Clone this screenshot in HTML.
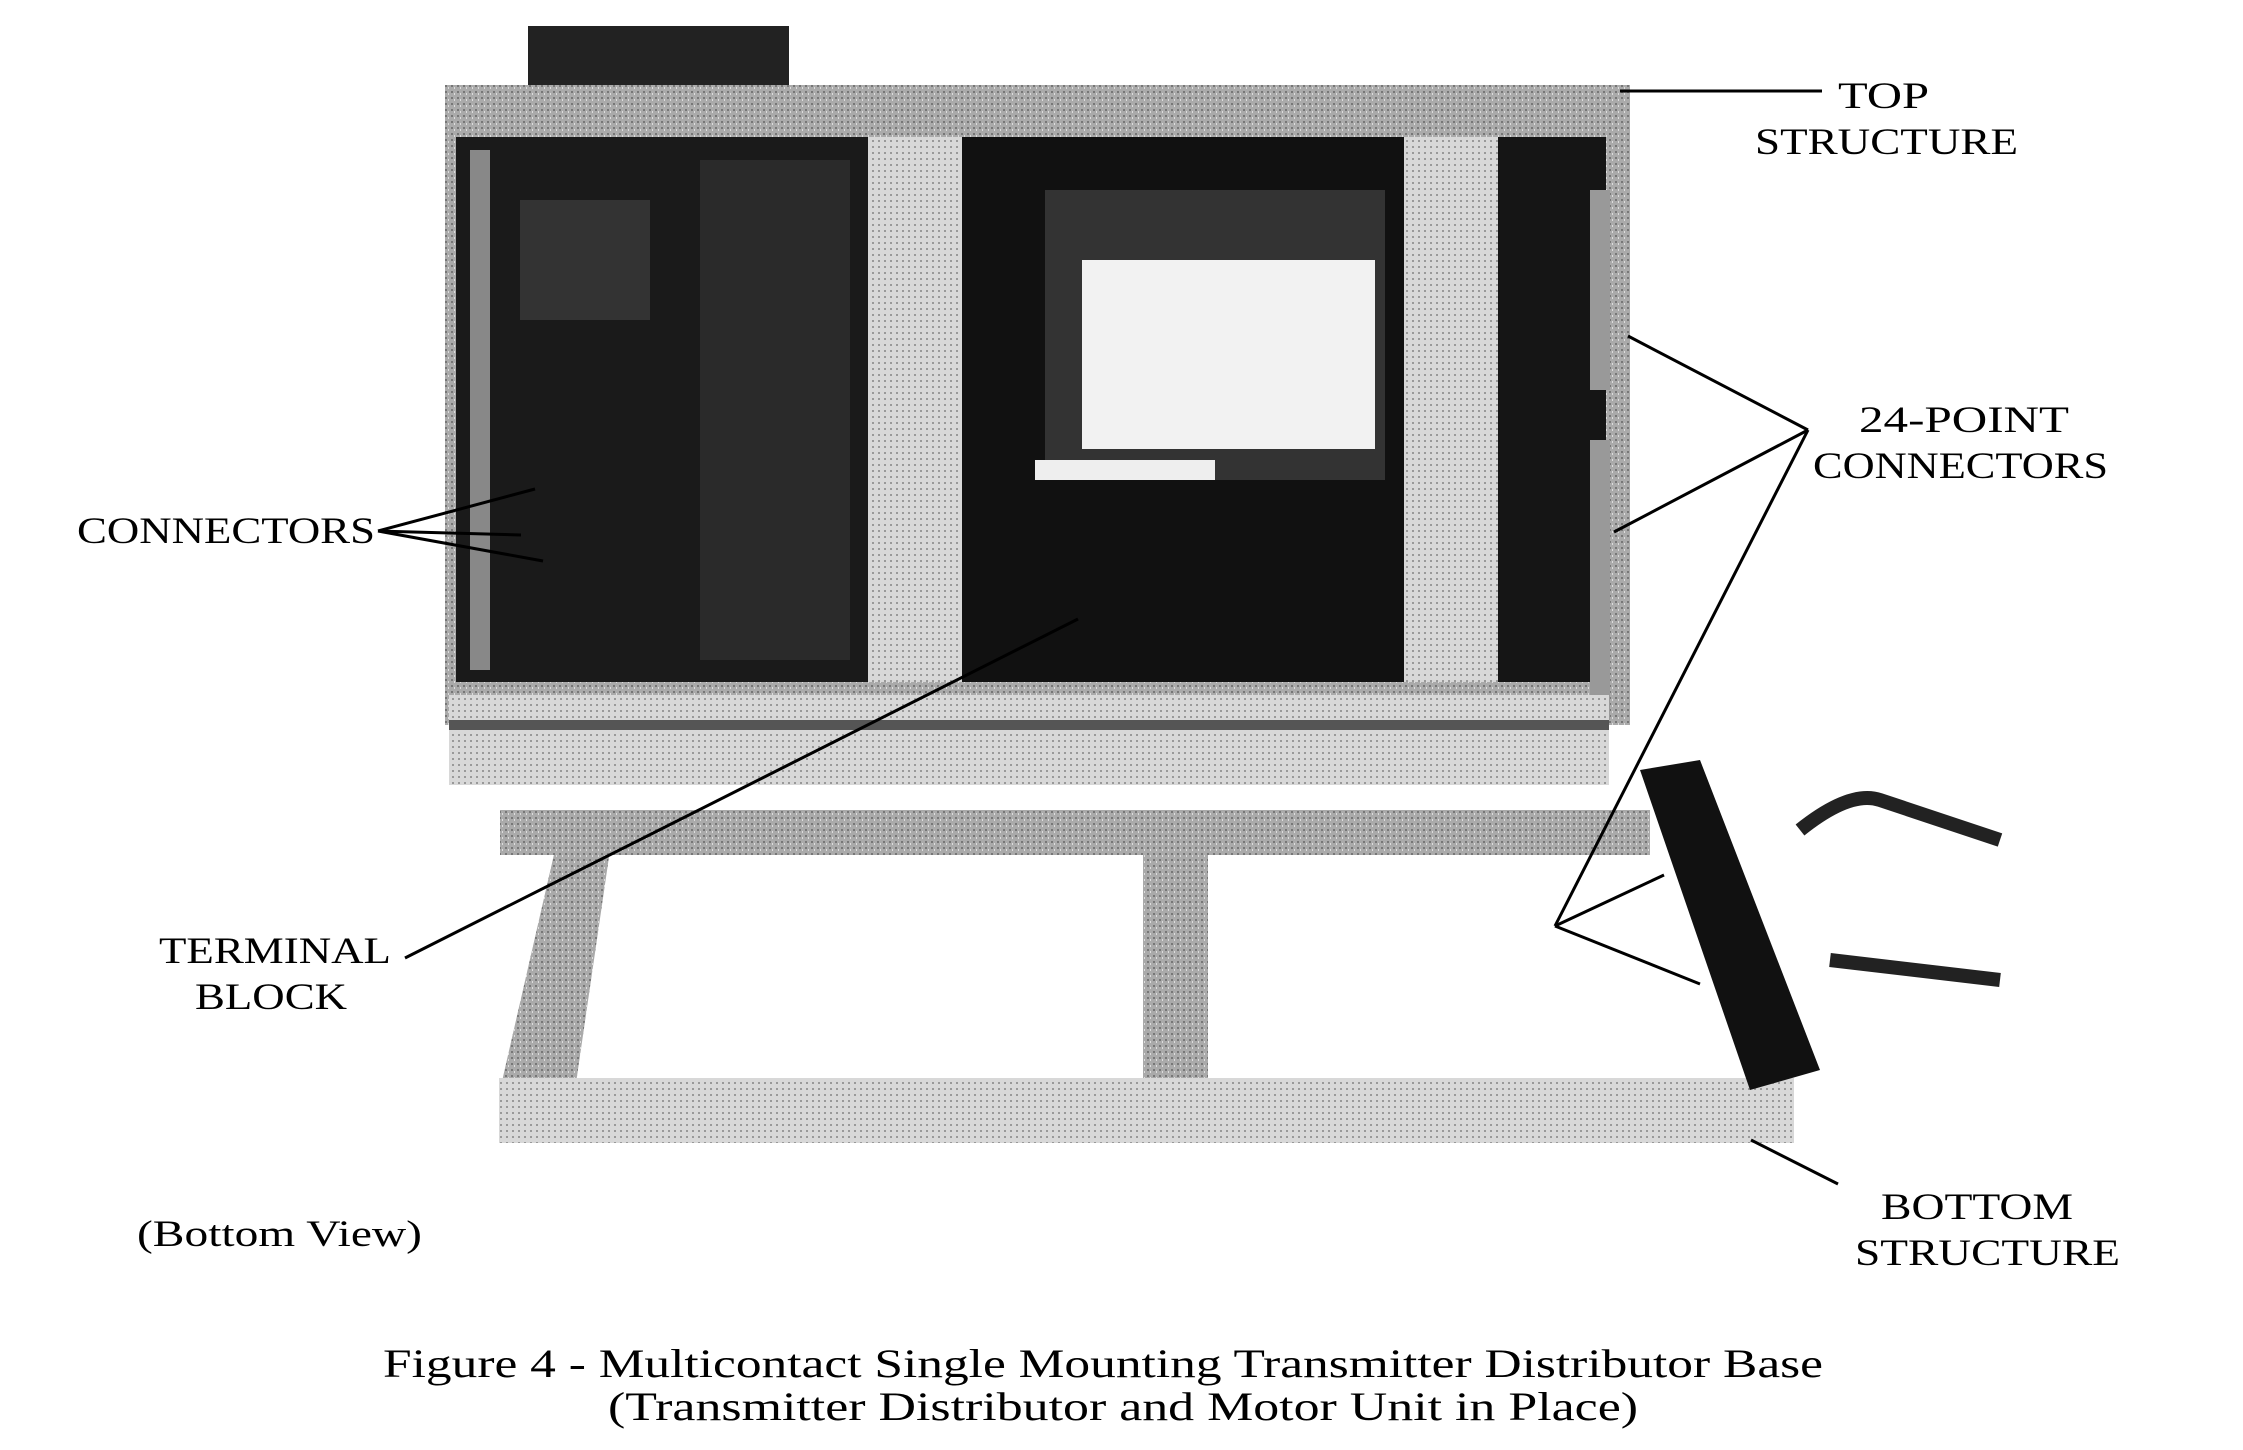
<!DOCTYPE html>
<html><head><meta charset="utf-8"><style>
html,body{margin:0;padding:0;background:#fff;}
svg{display:block;}
text{font-family:"Liberation Serif",serif;fill:#000;}
</style></head><body>
<svg width="2243" height="1450" viewBox="0 0 2243 1450" xmlns="http://www.w3.org/2000/svg">
<defs>
<pattern id="g" width="6" height="6" patternUnits="userSpaceOnUse">
<rect width="6" height="6" fill="#aaa"/><rect x="1" y="1" width="2" height="2" fill="#777"/><rect x="4" y="3" width="1" height="2" fill="#ddd"/>
</pattern>
<pattern id="lg" width="6" height="6" patternUnits="userSpaceOnUse">
<rect width="6" height="6" fill="#d8d8d8"/><rect x="2" y="2" width="2" height="2" fill="#999"/>
</pattern>
</defs>
<rect x="528" y="26" width="261" height="64" fill="#222"/>
<rect x="445" y="85" width="1185" height="640" fill="url(#g)"/>
<rect x="456" y="137" width="412" height="545" fill="#1a1a1a"/>
<rect x="470" y="150" width="20" height="520" fill="#888"/>
<rect x="520" y="200" width="130" height="120" fill="#333"/>
<rect x="700" y="160" width="150" height="500" fill="#2a2a2a"/>
<rect x="868" y="137" width="94" height="545" fill="url(#lg)"/>
<rect x="962" y="137" width="442" height="545" fill="#111"/>
<rect x="1045" y="190" width="340" height="290" fill="#333"/>
<rect x="1082" y="260" width="293" height="189" fill="#f2f2f2"/>
<rect x="1035" y="460" width="180" height="20" fill="#eee"/>
<rect x="1404" y="137" width="94" height="545" fill="url(#lg)"/>
<rect x="1498" y="137" width="108" height="545" fill="#151515"/>
<rect x="1590" y="190" width="20" height="200" fill="#999"/>
<rect x="1590" y="440" width="20" height="280" fill="#999"/>
<rect x="449" y="695" width="1160" height="90" fill="url(#lg)"/>
<rect x="449" y="720" width="1160" height="10" fill="#555"/>
<rect x="500" y="810" width="1150" height="45" fill="url(#g)"/>
<polygon points="555,850 610,850 575,1090 500,1090" fill="url(#g)"/>
<rect x="1143" y="818" width="65" height="270" fill="url(#g)"/>
<rect x="499" y="1078" width="1295" height="65" fill="url(#lg)"/>
<polygon points="1640,770 1700,760 1820,1070 1750,1090" fill="#111"/>
<path d="M1800,830 Q1850,790 1880,800 L2000,840" stroke="#222" stroke-width="14" fill="none"/>
<path d="M1830,960 L2000,980" stroke="#222" stroke-width="14" fill="none"/>
<g stroke="#000" stroke-width="3" fill="none">
<line x1="1620" y1="91" x2="1822" y2="91"/>
<line x1="1808" y1="430" x2="1628" y2="336"/>
<line x1="1808" y1="430" x2="1614" y2="532"/>
<line x1="1808" y1="430" x2="1555" y2="926"/>
<line x1="1555" y1="926" x2="1664" y2="875"/>
<line x1="1555" y1="926" x2="1700" y2="984"/>
<line x1="378" y1="531" x2="535" y2="489"/>
<line x1="378" y1="531" x2="521" y2="535"/>
<line x1="378" y1="531" x2="543" y2="561"/>
<line x1="405" y1="958" x2="1078" y2="619"/>
<line x1="1838" y1="1184" x2="1751" y2="1140"/>
</g>
<g font-size="37" lengthAdjust="spacingAndGlyphs">
<text x="1838" y="108" textLength="91" lengthAdjust="spacingAndGlyphs">TOP</text>
<text x="1755" y="154" textLength="263" lengthAdjust="spacingAndGlyphs">STRUCTURE</text>
<text x="1859" y="432" textLength="210" lengthAdjust="spacingAndGlyphs">24-POINT</text>
<text x="1813" y="478" textLength="295" lengthAdjust="spacingAndGlyphs">CONNECTORS</text>
<text x="77" y="543" textLength="298" lengthAdjust="spacingAndGlyphs">CONNECTORS</text>
<text x="159" y="963" textLength="232" lengthAdjust="spacingAndGlyphs">TERMINAL</text>
<text x="195" y="1009" textLength="152" lengthAdjust="spacingAndGlyphs">BLOCK</text>
<text x="1881" y="1219" textLength="192" lengthAdjust="spacingAndGlyphs">BOTTOM</text>
<text x="1855" y="1265" textLength="265" lengthAdjust="spacingAndGlyphs">STRUCTURE</text>
<text x="137" y="1246" textLength="285" lengthAdjust="spacingAndGlyphs">(Bottom View)</text>
<text x="383" y="1377" textLength="1440" lengthAdjust="spacingAndGlyphs" font-size="40">Figure 4 - Multicontact Single Mounting Transmitter Distributor Base</text>
<text x="608" y="1420" textLength="1030" lengthAdjust="spacingAndGlyphs" font-size="40">(Transmitter Distributor and Motor Unit in Place)</text>
</g>
</svg>
</body></html>
